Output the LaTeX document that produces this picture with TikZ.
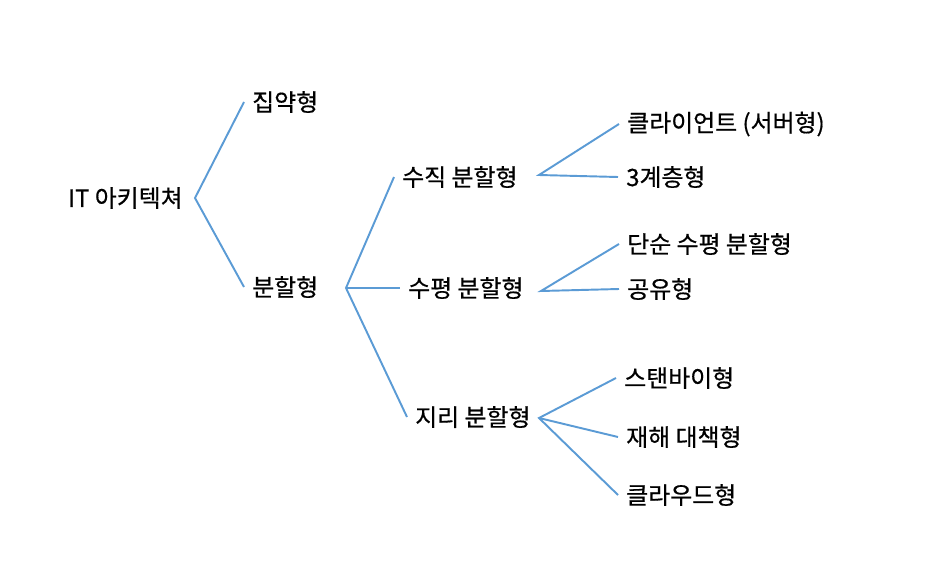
\documentclass[tikz,border=0pt]{standalone}
\usepackage{fontspec}
\newfontfamily\kr[FakeBold=0.6]{Noto Sans CJK KR}
\usepackage{tikz}
\usetikzlibrary{positioning}
\definecolor{treeblue}{RGB}{91,155,213}
\tikzstyle{link} = [line width=1.1pt, treeblue, -]
\tikzstyle{item} = [font=\kr\fontsize{13.6pt}{16pt}\selectfont, inner xsep=4.5pt, inner ysep=2pt, anchor=west]

\begin{document}
\begin{tikzpicture}[x=0.02cm, y=-0.02cm]
                    \useasboundingbox (0, 0) rectangle (936, 561);
                    % branch points
                    \coordinate (v0) at (195, 198);
                    \coordinate (v1) at (346, 288);
                    \coordinate (v2) at (539, 175);
                    \coordinate (v3) at (541, 291);
                    \coordinate (v4) at (539, 418);
                    % labels
                    \node (root) at (195, 198) [item, anchor=east, inner xsep=6.8pt] {IT 아키텍쳐};
                    \node (jip) at (244, 102) [item] {집약형};
                    \node (bun) at (244, 287) [item] {분할형};
                    \node (suj) at (394, 177) [item] {수직 분할형};
                    \node (sup) at (400, 288) [item] {수평 분할형};
                    \node (jir) at (407, 417) [item] {지리 분할형};
                    \node (cli) at (619, 124) [item] {클라이언트 (서버형)};
                    \node (tri) at (618, 177) [item] {3계층형};
                    \node (dan) at (619, 244) [item] {단순 수평 분할형};
                    \node (gon) at (619, 289) [item] {공유형};
                    \node (stb) at (616, 378) [item] {스탠바이형};
                    \node (jae) at (618, 437) [item] {재해 대책형};
                    \node (clo) at (618, 495) [item] {클라우드형};
                    % connectors
                    \draw [link] (jip.west) -- (v0) -- (bun.west);
                    \draw [link] (suj.west) -- (v1) -- (jir.west);
                    \draw [link] (v1) -- (sup.west);
                    \draw [link] (cli.west) -- (v2) -- (tri.west);
                    \draw [link] (dan.west) -- (v3) -- (gon.west);
                    \draw [link] (stb.west) -- (v4) -- (clo.west);
                    \draw [link] (v4) -- (jae.west);
                \end{tikzpicture}
\end{document}
